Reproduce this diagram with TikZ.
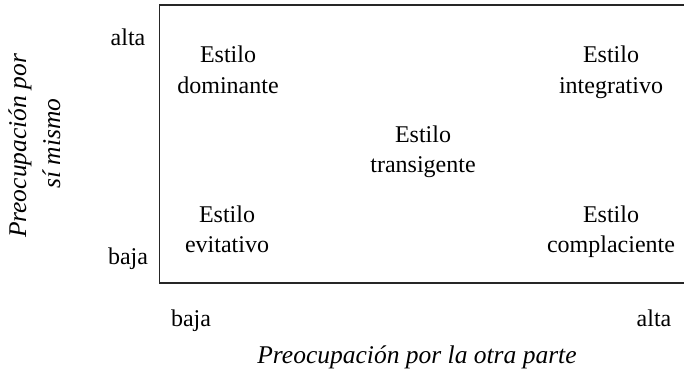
\documentclass[tikz,border=0pt]{standalone}
\usepackage{fontspec}
\setmainfont{Liberation Serif}
\begin{document}
\begin{tikzpicture}[x=1pt,y=1pt,
  lbl/.style={font=\fontsize{24}{31}\selectfont, inner sep=0pt, anchor=base},
  ital/.style={lbl, font=\fontsize{25.5}{33}\selectfont\itshape}]
\useasboundingbox (0,0) rectangle (684,373);
% box
\coordinate (tr) at (684,368);
\coordinate (tl) at (159.5,368);
\coordinate (bl) at (159.5,90);
\coordinate (br) at (684,90);
\draw[line width=1.1pt, black!85] (tr) -- (tl) -- (bl) -- (br);
% axis ticks
\node[lbl] (altaY) at (128,327) {alta};
\node[lbl] (bajaY) at (128,109) {baja};
\node[lbl] (bajaX) at (191,47) {baja};
\node[lbl] (altaX) at (654,47) {alta};
% styles
\node[lbl] (d1) at (228,311) {Estilo};
\node[lbl] (d2) at (228,280) {dominante};
\node[lbl] (i1) at (611,311) {Estilo};
\node[lbl] (i2) at (611,280) {integrativo};
\node[lbl] (t1) at (423,231) {Estilo};
\node[lbl] (t2) at (423,201) {transigente};
\node[lbl] (e1) at (227,151) {Estilo};
\node[lbl] (e2) at (227,121) {evitativo};
\node[lbl] (c1) at (611,151) {Estilo};
\node[lbl] (c2) at (611,121) {complaciente};
% axis titles
\node[ital] (xt) at (417,10) {Preocupación por la otra parte};
\node[ital, rotate=90] (yt1) at (26,227) {Preocupación por};
\node[ital, rotate=90] (yt2) at (60,229.5) {sí mismo};
\end{tikzpicture}
\end{document}
